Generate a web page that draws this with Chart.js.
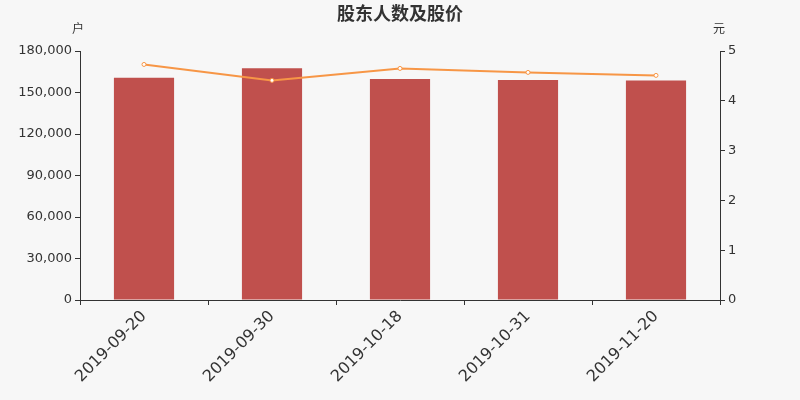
<!DOCTYPE html>
<html>
<head>
<meta charset="utf-8">
<script src="https://cdn.jsdelivr.net/npm/chart.js@4"></script>
<style>
  body { margin: 0; background: #f7f7f7; }
  #wrap { width: 800px; height: 400px; position: relative; }
</style>
</head>
<body>
<div id="wrap"><canvas id="holdersChart"></canvas></div>
<script>
// data
const dates = ['2019-09-20', '2019-09-30', '2019-10-18', '2019-10-31', '2019-11-20'];
const holders = [160700, 167500, 159800, 159100, 158600];
const prices = [4.73, 4.41, 4.65, 4.57, 4.51];

const fontFamily = '"DejaVu Sans", "Noto Sans CJK SC", sans-serif';
const textColor = '#333';

// title and axis units drawn straight on the canvas
const titlePlugin = {
    id: 'titleUnits',
    afterDraw(chart) {
        const c = chart.ctx;
        const area = chart.chartArea;
        c.save();
        c.fillStyle = textColor;
        c.textAlign = 'center';
        c.textBaseline = 'middle';
        c.font = 'bold 18px "Noto Sans CJK SC", sans-serif';
        c.fillText('股东人数及股价', 400, 13);
        c.font = '12px "Noto Sans CJK SC", sans-serif';
        c.fillText('户', area.left - 2, 28);
        c.fillText('元', area.right - 1, 28);
        c.restore();
    }
};

const ctx = document.getElementById('holdersChart').getContext('2d');
const holdersChart = new Chart(ctx, {
    data: {
        labels: dates,
        datasets: [
            {
                type: 'line',
                label: '股价',
                data: prices,
                yAxisID: 'y1',
                borderColor: '#f79646',
                borderWidth: 2,
                tension: 0,
                pointRadius: 2,
                pointBorderWidth: 1,
                pointBackgroundColor: '#ffffff',
                pointBorderColor: '#f79646',
                order: 0
            },
            {
                type: 'bar',
                label: '股东人数',
                data: holders,
                yAxisID: 'y',
                backgroundColor: '#c0504d',
                barPercentage: 0.47,
                categoryPercentage: 1,
                order: 1
            }
        ]
    },
    options: {
        responsive: true,
        maintainAspectRatio: false,
        animation: false,
        layout: {
            padding: { top: 51, right: 0, left: 0, bottom: 0 }
        },
        plugins: {
            legend: { display: false },
            tooltip: { enabled: false }
        },
        scales: {
            x: {
                offset: true,
                grid: {
                    offset: true,
                    drawOnChartArea: false,
                    tickLength: 5,
                    color: textColor
                },
                border: { color: textColor },
                ticks: {
                    color: textColor,
                    font: { family: fontFamily, size: 16 },
                    minRotation: 45,
                    maxRotation: 45,
                    padding: 2
                },
                afterFit(axis) { axis.height = 100; }
            },
            y: {
                position: 'left',
                min: 0,
                max: 180000,
                grid: {
                    drawOnChartArea: false,
                    tickLength: 5,
                    color: textColor
                },
                border: { color: textColor },
                ticks: {
                    stepSize: 30000,
                    color: textColor,
                    font: { family: fontFamily, size: 13 },
                    padding: 3,
                    callback: v => v.toLocaleString('en-US')
                },
                afterFit(axis) { axis.width = 80; }
            },
            y1: {
                position: 'right',
                min: 0,
                max: 5,
                grid: {
                    drawOnChartArea: false,
                    tickLength: 5,
                    color: textColor
                },
                border: { color: textColor },
                ticks: {
                    stepSize: 1,
                    color: textColor,
                    font: { family: fontFamily, size: 13 },
                    padding: 3
                },
                afterFit(axis) { axis.width = 80; }
            }
        }
    },
    plugins: [titlePlugin]
});
</script>
</body>
</html>
